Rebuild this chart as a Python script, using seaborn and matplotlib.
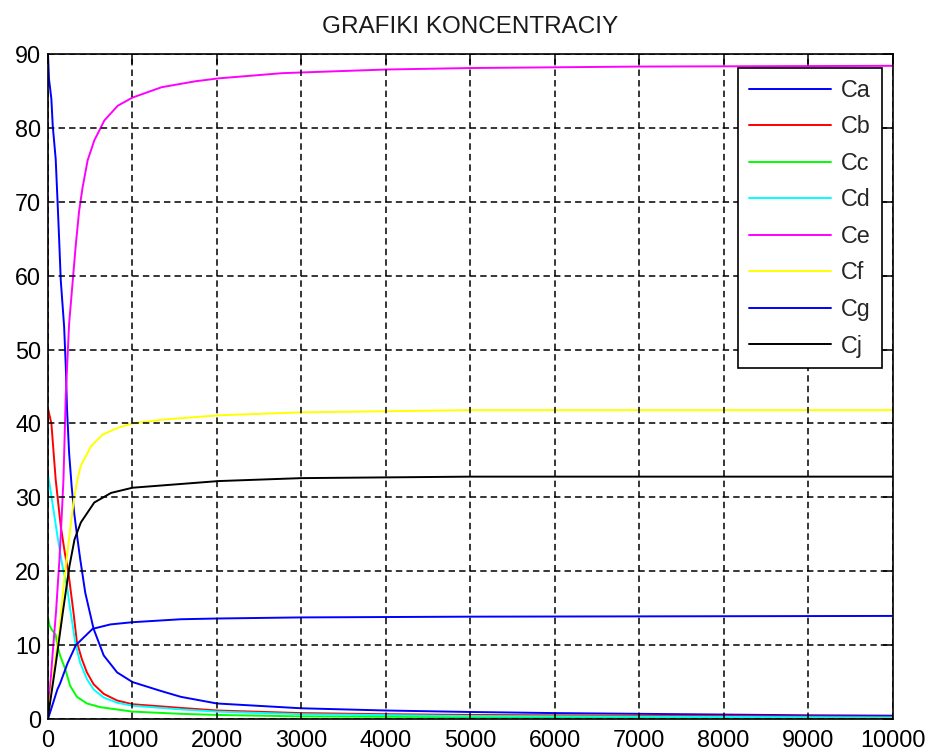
import numpy as np
import pandas as pd
import matplotlib
matplotlib.use("Agg")
import matplotlib.pyplot as plt
import seaborn as sns

# ---- data ----
series_names = ["Ca", "Cb", "Cc", "Cd", "Ce", "Cf", "Cg", "Cj"]
series_colors = ["#0000ff", "#ff0000", "#00ff00", "#00ffff", "#ff00ff", "#ffff00", "#0000ff", "#000000"]

t_ca = [0, 12, 40, 56, 91, 111, 131, 151, 191, 211, 225, 250, 280, 310, 350, 382, 441, 540, 660, 819,
        1000, 1335, 1573, 2000, 3000, 4000, 5000, 6000, 7000, 8000, 9000, 10000]
c_ca = [90, 86.6, 83.9, 80.3, 75.8, 70.6, 65.2, 59.4, 53.1, 47.6, 42.0, 36.0, 31.5, 27.9, 24.3, 21.6, 17.1, 12.2, 8.6, 6.3,
        5.0, 3.8, 3.0, 2.1, 1.45, 1.15, 0.95, 0.8, 0.7, 0.6, 0.5, 0.45]

t_cb = [0, 20, 40, 91, 151, 199, 242, 262, 302, 342, 401, 461, 540, 660, 819, 1000, 1573, 2000, 3000, 4000, 5000, 7000, 10000]
c_cb = [42, 41, 40, 32.4, 26.1, 22.5, 19.8, 18.0, 14.4, 10.4, 8.1, 6.3, 4.7, 3.4, 2.5, 2.0, 1.5, 1.15, 0.8, 0.65, 0.55, 0.45, 0.3]

t_cc = [0, 20, 50, 91, 111, 143, 203, 262, 342, 461, 620, 1000, 1573, 2000, 3000, 5000, 10000]
c_cc = [13.7, 12.6, 12.0, 11.4, 9.9, 8.6, 6.8, 4.5, 3.0, 2.1, 1.6, 1.0, 0.7, 0.55, 0.35, 0.25, 0.12]

t_cd = [0, 52, 111, 171, 225, 262, 322, 381, 461, 540, 660, 819, 1000, 1573, 2000, 3000, 5000, 10000]
c_cd = [33.1, 29.3, 24.8, 20.7, 18.0, 14.9, 10.4, 7.6, 5.4, 4.0, 2.9, 2.2, 1.8, 1.3, 1.0, 0.65, 0.4, 0.2]

t_ce = [0, 56, 95, 135, 155, 183, 211, 250, 290, 330, 369, 409, 469, 548, 667, 826, 1000, 1344, 1740, 2018,
        2765, 3000, 4000, 5000, 7000, 10000]
c_ce = [0.5, 9.0, 14.5, 21.5, 25.7, 32.4, 44.0, 53.5, 58.9, 64.3, 68.8, 71.9, 75.6, 78.3, 81.0, 83.0, 84.1, 85.5, 86.3, 86.7,
        87.4, 87.5, 87.9, 88.1, 88.3, 88.4]

t_cf = [0, 56, 135, 203, 250, 310, 350, 389, 509, 648, 826, 1000, 1344, 2018, 3000, 5000, 10000]
c_cf = [0.3, 5.4, 12.2, 20.0, 24.5, 30.0, 32.5, 34.3, 36.9, 38.5, 39.4, 40.0, 40.5, 41.1, 41.5, 41.8, 41.8]

t_cg = [0, 50, 111, 143, 230, 330, 528, 739, 1000, 1573, 2000, 3000, 5000, 10000]
c_cg = [0, 1.8, 4.0, 4.8, 7.5, 10.0, 12.2, 12.8, 13.1, 13.5, 13.6, 13.75, 13.85, 13.95]

t_cj = [0, 95, 175, 254, 314, 389, 548, 747, 1000, 2018, 3000, 5000, 10000]
c_cj = [0.3, 7.7, 14.4, 20.7, 24.3, 26.6, 29.3, 30.6, 31.3, 32.2, 32.6, 32.8, 32.8]

x_ticks = list(range(0, 10001, 1000))
y_ticks = list(range(0, 91, 10))
title_text = "GRAFIKI KONCENTRACIY"

# ---- build long table ----
all_t = [t_ca, t_cb, t_cc, t_cd, t_ce, t_cf, t_cg, t_cj]
all_c = [c_ca, c_cb, c_cc, c_cd, c_ce, c_cf, c_cg, c_cj]
frames = []
for name, tt, cc in zip(series_names, all_t, all_c):
    frames.append(pd.DataFrame({"t": tt, "c": cc, "series": name}))
df = pd.concat(frames, ignore_index=True)

# ---- style ----
sns.set_theme(style="white")
plt.rcParams["font.family"] = ["Liberation Sans", "DejaVu Sans"]
plt.rcParams["axes.edgecolor"] = "black"

fig = plt.figure(figsize=(9.3, 7.54), dpi=100)
ax = fig.add_axes([48 / 930, 35 / 754, 844.5 / 930, 665 / 754])

palette = dict(zip(series_names, series_colors))
sns.lineplot(data=df, x="t", y="c", hue="series", hue_order=series_names,
             palette=palette, estimator=None, linewidth=1.4, ax=ax, legend=True)

ax.set_xlim(0, 10000)
ax.set_ylim(0, 90)
ax.set_xticks(x_ticks)
ax.set_yticks(y_ticks)
ax.set_xticklabels([str(v) for v in x_ticks])
ax.set_yticklabels([str(v) for v in y_ticks])
ax.set_xlabel("")
ax.set_ylabel("")

ax.tick_params(axis="both", which="major", direction="in", length=7.5, width=1.1,
               top=True, right=True, labelsize=16.8, colors="black", pad=5)
ax.tick_params(axis="x", pad=7)

ax.grid(True, color="black", linewidth=1.1, linestyle=(0, (4.2, 2.7)))
ax.set_axisbelow(False)
for s in ax.spines.values():
    s.set_visible(True)
    s.set_color("black")
    s.set_linewidth(1.2)

ax.set_title(title_text, fontsize=17.5, color="#1a1a1a", pad=15)

handles, labels = ax.get_legend_handles_labels()
leg = ax.legend(handles, labels, loc="upper right", bbox_to_anchor=(0.987, 0.9785),
                fontsize=16.8, frameon=True, fancybox=False, framealpha=1.0,
                edgecolor="black", handlelength=3.5, handletextpad=0.45,
                labelspacing=0.58, borderpad=0.45, borderaxespad=0.0)
leg.get_frame().set_linewidth(1.2)
for line in leg.get_lines():
    line.set_linewidth(1.4)

fig.savefig("out.png", dpi=100)
